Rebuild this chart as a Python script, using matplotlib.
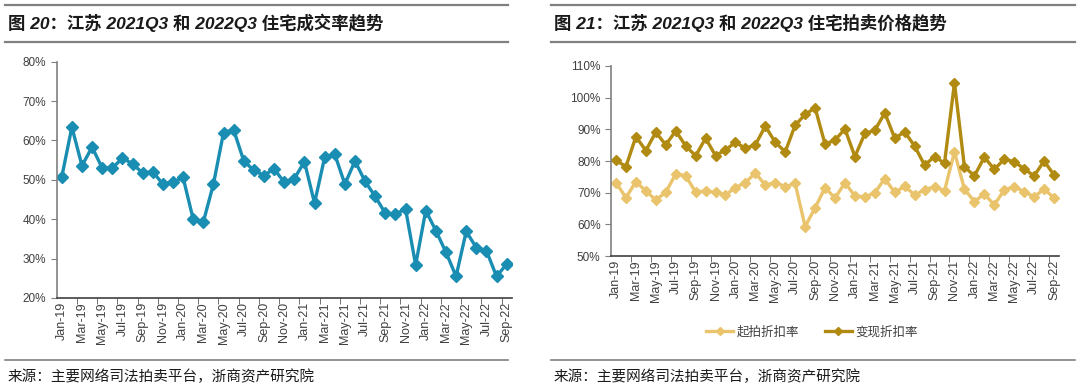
import numpy as np
import matplotlib
matplotlib.use("Agg")
from matplotlib import pyplot as plt
from matplotlib.lines import Line2D

plt.rcParams['font.family'] = ['Liberation Sans', 'Noto Sans CJK SC', 'DejaVu Sans']

months = []
for yr in [19, 20, 21, 22]:
    for m in ['Jan', 'Feb', 'Mar', 'Apr', 'May', 'Jun', 'Jul', 'Aug', 'Sep', 'Oct', 'Nov', 'Dec']:
        months.append(f"{m}-{yr}")
months = months[:45]

# 成交率 (%)
deal_rate = [50.7, 63.4, 53.6, 58.3, 53.0, 53.0, 55.5, 54.1, 51.7, 52.1, 48.9, 49.4,
             50.6, 40.0, 39.3, 48.9, 62.0, 62.7, 54.8, 52.4, 51.1, 52.8, 49.4, 50.3,
             54.6, 44.1, 55.7, 56.5, 48.9, 54.8, 49.6, 45.8, 41.5, 41.3, 42.6, 28.4,
             42.2, 37.1, 31.6, 25.5, 36.9, 32.8, 32.0, 25.5, 28.6]

# 起拍折扣率 (%)
start_disc = [73.2, 68.4, 73.5, 70.5, 67.7, 70.1, 75.9, 75.4, 70.1, 70.6, 70.1, 69.3,
              71.6, 73.2, 76.2, 72.4, 73.2, 71.9, 72.9, 59.3, 65.2, 71.6, 68.3, 73.1,
              69.0, 68.6, 70.0, 74.4, 70.1, 72.0, 69.3, 70.9, 71.9, 70.6, 82.9, 71.1,
              67.2, 69.6, 66.1, 70.9, 71.9, 70.3, 68.7, 71.1, 68.4]

# 变现折扣率 (%)
real_disc = [80.3, 78.2, 87.7, 83.3, 89.1, 85.1, 89.5, 84.8, 81.6, 87.2, 81.7, 83.5,
             85.9, 84.0, 85.1, 91.0, 85.9, 82.9, 91.3, 94.7, 96.8, 85.3, 86.6, 90.1,
             81.4, 88.7, 89.7, 95.2, 87.2, 89.2, 84.7, 78.7, 81.4, 79.3, 104.7, 78.2,
             75.3, 81.2, 77.4, 80.5, 79.8, 77.5, 75.3, 80.0, 75.6]

teal = '#1a8db2'
light = '#e9c46c'
dark = '#b18a12'
cjk = ['Noto Sans CJK SC', 'DejaVu Sans']

fig = plt.figure(figsize=(10.8, 3.91), dpi=100)


def px(x, y):
    return x / 1080, 1 - y / 391


def style_axes(ax, lo, hi, step):
    x = np.arange(len(months))
    ax.set_xlim(-0.5, len(months) - 0.5)
    ax.set_ylim(lo, hi)
    ax.set_yticks(np.arange(lo, hi + 1, step))
    ax.set_yticklabels([f"{v}%" for v in np.arange(lo, hi + 1, step)])
    ax.set_xticks(x[::2])
    ax.set_xticklabels(months[::2], rotation=90)
    ax.set_xticks(np.arange(1.5, len(months) - 1, 2), minor=True)
    ax.tick_params(axis='x', which='major', length=0, labelsize=9, colors='#404040', pad=3)
    ax.tick_params(axis='x', which='minor', length=4, color='#595959', direction='out')
    ax.tick_params(axis='y', length=4, color='#808080', labelsize=8.5, labelcolor='#404040')
    for s in ['top', 'right']:
        ax.spines[s].set_visible(False)
    ax.spines['left'].set_color('#808080')
    ax.spines['bottom'].set_color('#404040')
    ax.spines['left'].set_linewidth(1.2)
    ax.spines['bottom'].set_linewidth(1.2)


# left panel
ax1 = fig.add_axes([56.7 / 1080, 1 - 298 / 391, (511.7 - 56.7) / 1080, (298 - 61.7) / 391])
ax1.plot(np.arange(len(months)), deal_rate, color=teal, lw=2.4, marker='D', ms=6)
style_axes(ax1, 20, 80, 10)

# right panel
ax2 = fig.add_axes([611 / 1080, 1 - 256 / 391, (1059 - 611) / 1080, (256 - 66) / 391])
ax2.plot(np.arange(len(months)), start_disc, color=light, lw=2.4, marker='D', ms=5.5)
ax2.plot(np.arange(len(months)), real_disc, color=dark, lw=2.4, marker='D', ms=5.5)
style_axes(ax2, 50, 110, 10)

handles = [Line2D([], [], color=light, lw=2.4, marker='D', ms=4),
           Line2D([], [], color=dark, lw=2.4, marker='D', ms=4)]
fig.legend(handles, ['起拍折扣率', '变现折扣率'], loc='center', bbox_to_anchor=px(812, 332),
           ncol=2, frameon=False, prop={'family': cjk, 'size': 9}, handlelength=2.2,
           columnspacing=2.0, handletextpad=0.3, labelcolor='#404040')

# titles, rules and sources
for x0, x1, title in [(5, 508, '图 20：江苏 2021Q3 和 2022Q3 住宅成交率趋势'),
                      (551, 1075, '图 21：江苏 2021Q3 和 2022Q3 住宅拍卖价格趋势')]:
    for yy, lw, col in [(5, 1.6, '#808080'), (41.5, 1.6, '#808080'), (360, 1.2, '#808080')]:
        fig.add_artist(Line2D([x0 / 1080, x1 / 1080], [1 - yy / 391] * 2, color=col, lw=lw))
    fig.text(*px(x0 + 3, 23), title, family=['Liberation Sans', 'Noto Sans CJK SC'],
             fontsize=12.5, fontweight='bold', style='italic', va='center', ha='left',
             color='#1a1a1a')
    fig.text(*px(x0 + 3, 377), '来源：主要网络司法拍卖平台，浙商资产研究院', family=cjk,
             fontsize=10.5, va='center', ha='left', color='#1a1a1a')

fig.savefig('out.png', dpi=100, facecolor='white')
